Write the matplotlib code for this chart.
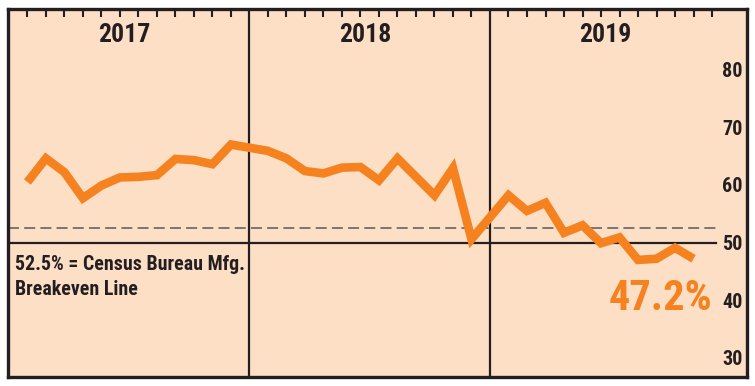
import matplotlib.pyplot as plt
from matplotlib import font_manager

# pick a narrow bold face that is installed
installed = {f.name for f in font_manager.fontManager.ttflist}
preferred = ['Roboto Condensed', 'Liberation Sans Narrow', 'Barlow Condensed', 'Asap Condensed']
narrow = [n for n in preferred if n in installed][:1]
plt.rcParams['font.family'] = narrow + ['DejaVu Sans']

# ----------- Data -----------
years = ["2017", "2018", "2019"]
values_2017 = [60.5, 64.6, 62.2, 57.7, 59.9, 61.3, 61.4, 61.7, 64.5, 64.3, 63.6, 67.0]
values_2018 = [65.9, 64.6, 62.4, 62.0, 63.0, 63.1, 60.8, 64.6, 61.4, 58.2, 62.9, 50.6]
values_2019 = [58.2, 55.5, 56.9, 51.7, 53.0, 49.9, 50.9, 47.0, 47.2, 49.1, 47.2]
ytick_values = [30, 40, 50, 60, 70, 80]
breakeven = 52.5
last_label = "47.2%"
note = "52.5% = Census Bureau Mfg.\nBreakeven Line"

# each year takes 13 slots: boundary + 12 months
series = [values_2017, values_2018, values_2019]
xs, ys = [], []
for k, vals in enumerate(series):
    for m, v in enumerate(vals):
        xs.append(13 * k + m + 1)
        ys.append(v)

orange = "#F5821F"
ink = "#231F20"
bg = "#FDDFC6"

fig = plt.figure(figsize=(7.55, 3.86), dpi=100)
ax = fig.add_axes([8 / 755, 9 / 386, 739 / 755, 368 / 386])
ax.set_facecolor(bg)
ax.set_xlim(-0.05, 39.89)
ax.set_ylim(26.7, 90.5)

for s in ax.spines.values():
    s.set_color(ink)
    s.set_linewidth(2.4)

# reference lines
ax.plot([-0.05, 38.2], [50, 50], color=ink, lw=1.6, zorder=2)
ax.plot([-0.05, 38.2], [breakeven, breakeven], color="#58595B", lw=1.1,
        linestyle=(0, (7.2, 3.4)), zorder=2)
for k in range(1, len(years)):
    ax.axvline(13 * k, color=ink, lw=1.6, zorder=2)

# main series
ax.plot(xs, ys, color=orange, lw=6.2, solid_joinstyle="miter",
        solid_capstyle="butt", zorder=3)

# month ticks on top
month_ticks = [13 * k + m for k in range(len(years)) for m in range(1, 13)]
ax.set_xticks(month_ticks)
ax.tick_params(axis="x", top=True, bottom=False, direction="in", length=6,
               width=1.5, color=ink, labeltop=False, labelbottom=False)

ax.set_yticks(ytick_values)
ax.set_yticklabels([str(v) for v in ytick_values], fontsize=14.5,
                   fontweight="bold", color=ink, ha="right")
ax.tick_params(axis="y", left=False, right=False, labelleft=False,
               labelright=True, pad=-6.5)

for k, yr in enumerate(years):
    ax.text(13 * k + 6.25, 86.0, yr, ha="center", va="center",
            fontsize=18.5, fontweight="bold", color=ink)

ax.text(0.32, 47.9, note, ha="left", va="top", fontsize=14.3,
        fontweight="bold", color=ink, linespacing=1.45)
ax.text(38.0, 38.3, last_label, ha="right", va="baseline", fontsize=30.5,
        fontweight="bold", color=orange)

fig.savefig("out.png", dpi=100)
